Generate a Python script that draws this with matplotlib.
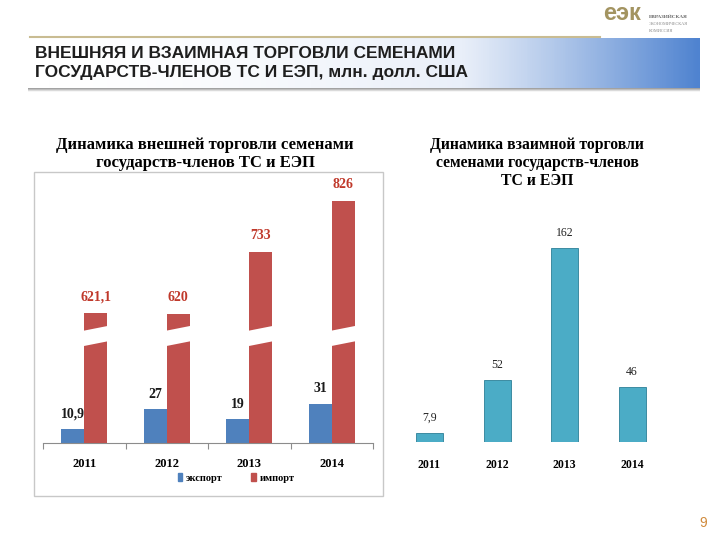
import numpy as np
import matplotlib
matplotlib.use("Agg")
import matplotlib.pyplot as plt
from matplotlib.patches import Rectangle, Polygon
from matplotlib.colors import LinearSegmentedColormap

plt.rcParams['font.family'] = ['Liberation Sans', 'DejaVu Sans']

# data
years = ['2011', '2012', '2013', '2014']
export = [10.9, 27, 19, 31]
imports = [621.1, 620, 733, 826]
mutual = [7.9, 52, 162, 46]

title = 'ВНЕШНЯЯ И ВЗАИМНАЯ ТОРГОВЛИ СЕМЕНАМИ\nГОСУДАРСТВ-ЧЛЕНОВ ТС И ЕЭП, млн. долл. США'
left_title = 'Динамика внешней торговли семенами\nгосударств-членов ТС и ЕЭП'
right_title = 'Динамика взаимной торговли\nсеменами государств-членов\nТС и ЕЭП'
legend_labels = ['экспорт', 'импорт']


def fmt(v):
    return f'{v:g}'.replace('.', ',')


W, H = 720, 540
fig = plt.figure(figsize=(7.2, 5.4), dpi=100)


def box(x0, y0, x1, y1):
    # pixel box (top-left origin) -> figure fraction rect
    return [x0 / W, 1 - y1 / H, (x1 - x0) / W, (y1 - y0) / H]


# ---- header band with gradient ----
hdr = fig.add_axes(box(28, 38, 700, 88))
cmap = LinearSegmentedColormap.from_list('hdr', ['#ffffff', '#e9eff9', '#4f83d0'])
grad = np.linspace(0, 1, 300) ** 1.6
hdr.imshow(grad[np.newaxis, :], aspect='auto', cmap=cmap, extent=[0, 1, 0, 1])
hdr.axis('off')
sh = fig.add_axes(box(28, 88, 700, 92))
sh.imshow(np.linspace(0.6, 1, 10)[:, np.newaxis], aspect='auto', cmap='gray', vmin=0, vmax=1)
sh.axis('off')
fig.add_artist(plt.Line2D([30 / W, 600 / W], [1 - 37 / H, 1 - 37 / H], color='#c9bc92', lw=1.5))
fig.text(35 / W, 1 - 63 / H, title, fontsize=12.5, fontweight='bold', color='#1e1e1e',
         va='center', ha='left', linespacing=1.33)

# logo
fig.text(603 / W, 1 - 13 / H, 'еэк', fontsize=17, fontweight='bold', color='#a39461',
         va='center', ha='left')
fig.text(649 / W, 1 - 17 / H, 'ЕВРАЗИЙСКАЯ', fontsize=3.8, fontweight='bold', color='#666666',
         family='Liberation Serif', va='center')
fig.text(649 / W, 1 - 24 / H, 'ЭКОНОМИЧЕСКАЯ', fontsize=3.2, color='#888888',
         family='Liberation Serif', va='center')
fig.text(649 / W, 1 - 31 / H, 'КОМИССИЯ', fontsize=3.2, color='#888888',
         family='Liberation Serif', va='center')

# subtitles
fig.text(205 / W, 1 - 154 / H, left_title, fontsize=12, fontweight='bold',
         family='Liberation Serif', ha='center', va='center', linespacing=1.1)
fig.text(537 / W, 1 - 163 / H, right_title, fontsize=11.3, fontweight='bold',
         family='Liberation Serif', ha='center', va='center', linespacing=1.2)

# ---- left chart ----
fig.add_artist(Rectangle((34 / W, 1 - 496 / H), (383 - 34) / W, (496 - 172) / H,
                         transform=fig.transFigure, fill=False, edgecolor='#c8c8c8', lw=1))

x = np.arange(len(years))
w = 0.28
ax = fig.add_axes(box(43, 190, 373, 443))
ax.bar(x - w / 2, export, width=w, color='#4f81bd', zorder=2)
ax.set_ylim(0, 200)
ax.set_xlim(-0.5, 3.5)
for xi, v in zip(x, export):
    ax.annotate(fmt(v), (xi - w / 2, v), xytext=(0, 6), textcoords='offset points',
                ha='center', va='bottom', fontsize=10, fontweight='bold',
                family='Liberation Serif', color='#1a1a1a')

ax2 = ax.twinx()
ax2.bar(x + w / 2, imports, width=w, color='#c0504d', zorder=2)
ax2.set_ylim(385, 846)
brk, gap, slant = 580, 14, 5
for xi, v in zip(x, imports):
    xl, xr = xi + w / 2 - w * 0.6, xi + w / 2 + w * 0.6
    ax2.add_patch(Polygon([(xl, brk - gap - slant), (xr, brk - gap + slant),
                           (xr, brk + gap + slant), (xl, brk + gap - slant)],
                          closed=True, facecolor='white', edgecolor='none', zorder=3))
    ax2.annotate(fmt(v), (xi + w / 2, v), xytext=(0, 7), textcoords='offset points',
                 ha='center', va='bottom', fontsize=10, fontweight='bold',
                 family='Liberation Serif', color='#c0392b')

for a in (ax, ax2):
    for s in ('top', 'right', 'left'):
        a.spines[s].set_visible(False)
    a.set_yticks([])
ax2.spines['bottom'].set_visible(False)
ax.spines['bottom'].set_color('#8c8c8c')
ax.set_xticks(np.arange(-0.5, 4, 1))
ax.set_xticklabels([])
ax.tick_params(axis='x', which='major', length=4, color='#8c8c8c', direction='out')
ax.set_xticks(x, minor=True)
ax.set_xticklabels(years, minor=True, fontsize=9, fontweight='bold', family='Liberation Serif')
ax.tick_params(axis='x', which='minor', length=0, pad=11)

handles = [Rectangle((0, 0), 1, 1, color='#4f81bd'), Rectangle((0, 0), 1, 1, color='#c0504d')]
fig.legend(handles, legend_labels, loc='center', bbox_to_anchor=(236 / W, 1 - 478 / H),
           ncol=2, frameon=False, handlelength=0.45, handleheight=0.8, handletextpad=0.3,
           columnspacing=2.8, prop={'family': 'Liberation Serif', 'weight': 'bold', 'size': 7.5})

# ---- right chart ----
axr = fig.add_axes(box(395.75, 202, 665.75, 442))
axr.bar(x, mutual, width=0.4, color='#4bacc6', edgecolor='#2c7f97', lw=0.6)
axr.set_ylim(0, 200)
axr.set_xlim(-0.5, 3.5)
for xi, v in zip(x, mutual):
    axr.annotate(fmt(v), (xi, v), xytext=(0, 6), textcoords='offset points',
                 ha='center', va='bottom', fontsize=8.5, family='Liberation Serif', color='#222222')
for s in axr.spines.values():
    s.set_visible(False)
axr.set_yticks([])
axr.set_xticks(x)
axr.set_xticklabels(years, fontsize=8.5, fontweight='bold', family='Liberation Serif')
axr.tick_params(axis='x', length=0, pad=12)

# page number
fig.text(703 / W, 1 - 523 / H, '9', fontsize=10, color='#d08a3c', ha='center', va='center')

fig.savefig('out.png', dpi=100)
